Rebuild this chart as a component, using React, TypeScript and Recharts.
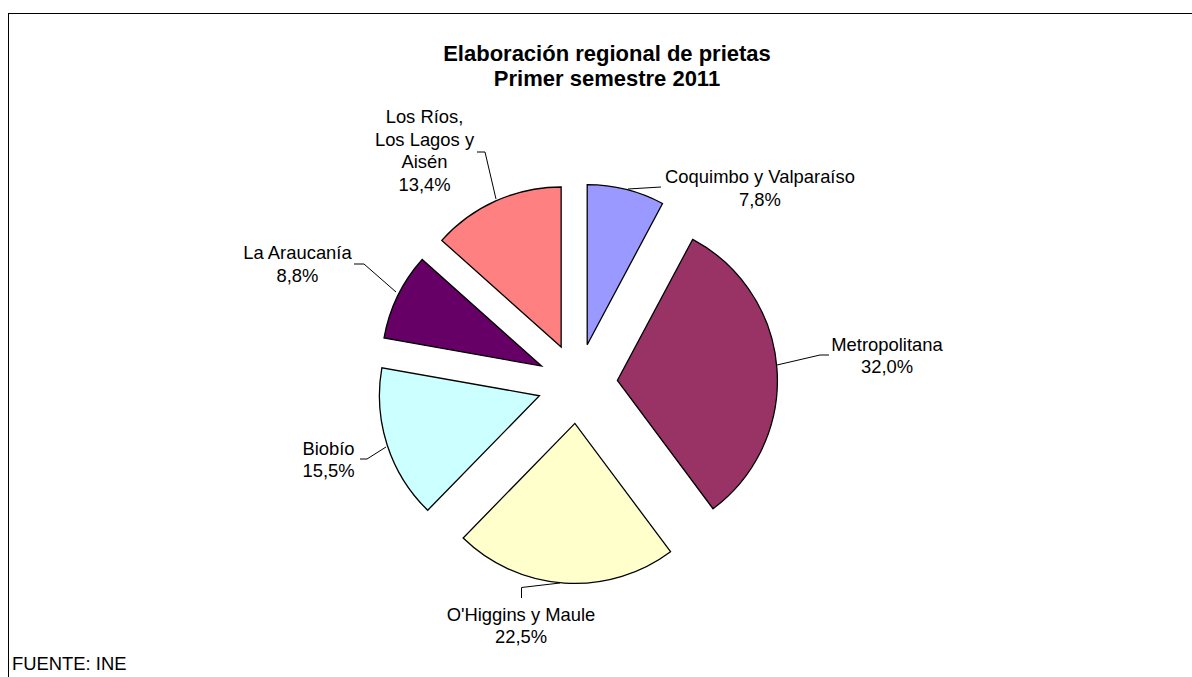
import React from 'react';
import { PieChart, Pie, Cell } from 'recharts';

// Elaboración regional de prietas, primer semestre 2011 (% of total)
const REGIONS = [
  'Coquimbo y Valparaíso',
  'Metropolitana',
  "O'Higgins y Maule",
  'Biobío',
  'La Araucanía',
  'Los Ríos, Los Lagos y Aisén',
];
const SHARES = [7.8, 32.0, 22.5, 15.5, 8.8, 13.4];
const LABEL_LINES = [
  ['Coquimbo y Valparaíso'],
  ['Metropolitana'],
  ["O'Higgins y Maule"],
  ['Biobío'],
  ['La Araucanía'],
  ['Los Ríos,', 'Los Lagos y', 'Aisén'],
];
const COLORS = ['#9999FF', '#993366', '#FFFFCC', '#CCFFFF', '#660066', '#FF8080'];

// layout
const W = 1192;
const H = 677;
const CX = 577.5;
const CY = 383.5;
const R = 160;
const EXPLODE = 40;
const FONT = '"Liberation Sans", Arial, sans-serif';
const LINE_H = 22.6;

const LABEL_POS = [
  { x: 760, y: 183 },
  { x: 887, y: 350.5 },
  { x: 521, y: 620.5 },
  { x: 328.5, y: 454.5 },
  { x: 297.5, y: 259 },
  { x: 424.5, y: 123 },
];
const LEADERS = [
  [[628, 189], [661, 187]],
  [[777, 365], [820, 355], [829, 355]],
  [[560, 583], [521.5, 587.5], [521.5, 598]],
  [[386, 447], [367, 459], [360, 459]],
  [[396, 292], [364, 264], [354, 264]],
  [[496, 199], [485, 152], [477, 152]],
];

const data = REGIONS.map((name, i) => ({ name, value: SHARES[i] }));
const total = SHARES.reduce((s, v) => s + v, 0);

// explode offset of each slice, along its middle angle (clockwise from 12 o'clock)
const offsets = (() => {
  let acc = 0;
  return SHARES.map((v) => {
    const mid = ((acc + v / 2) / total) * 2 * Math.PI;
    acc += v;
    return { dx: EXPLODE * Math.sin(mid), dy: -EXPLODE * Math.cos(mid) };
  });
})();

const fmt = (v: number) => v.toFixed(1).replace('.', ',') + '%';

const renderLabel = (slice: number) => (props: any) => {
  if (props.index !== slice) return null;
  const pos = LABEL_POS[slice];
  const lines = [...LABEL_LINES[slice], fmt(props.value)];
  return (
    <g key={`lbl-${slice}`}>
      <polyline
        points={LEADERS[slice].map((p) => p.join(',')).join(' ')}
        fill="none"
        stroke="#000"
        strokeWidth={1}
      />
      <text textAnchor="middle" fontFamily={FONT} fontSize={18.4} fill="#000">
        {lines.map((l, k) => (
          <tspan key={k} x={pos.x} y={pos.y + k * LINE_H}>
            {l}
          </tspan>
        ))}
      </text>
    </g>
  );
};

export default function App() {
  return (
    <div style={{ position: 'absolute', left: 0, top: 0, width: W, height: H, background: '#fff', overflow: 'hidden' }}>
      <div
        style={{
          position: 'absolute',
          left: 8,
          top: 13,
          width: W,
          height: H,
          borderLeft: '1px solid #000',
          borderTop: '1px solid #000',
        }}
      />
      <div style={{ position: 'absolute', left: 0, top: 0 }}>
        <PieChart width={W} height={H} margin={{ top: 0, right: 0, bottom: 0, left: 0 }}>
          {SHARES.map((_, i) => (
            <Pie
              key={i}
              data={data}
              dataKey="value"
              nameKey="name"
              cx={CX + offsets[i].dx}
              cy={CY + offsets[i].dy}
              innerRadius={0}
              outerRadius={R}
              startAngle={90}
              endAngle={-270}
              isAnimationActive={false}
              labelLine={false}
              label={renderLabel(i)}
            >
              {data.map((d, j) => (
                <Cell
                  key={d.name}
                  fill={j === i ? COLORS[j] : 'none'}
                  stroke={j === i ? '#000' : 'none'}
                  strokeWidth={1.3}
                />
              ))}
            </Pie>
          ))}
        </PieChart>
      </div>
      <svg width={W} height={H} style={{ position: 'absolute', left: 0, top: 0, pointerEvents: 'none' }}>
        <text x={607} y={61} textAnchor="middle" fontFamily={FONT} fontSize={22} fontWeight="bold" fill="#000">
          Elaboración regional de prietas
        </text>
        <text x={607} y={86} textAnchor="middle" fontFamily={FONT} fontSize={22} fontWeight="bold" fill="#000">
          Primer semestre 2011
        </text>
        <text x={12} y={670} fontFamily={FONT} fontSize={18.4} fill="#000">
          FUENTE: INE
        </text>
      </svg>
    </div>
  );
}
